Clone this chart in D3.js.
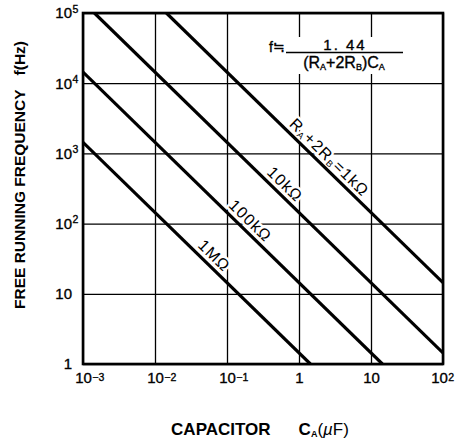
<!DOCTYPE html>
<html>
<head>
<meta charset="utf-8">
<script src="https://cdn.jsdelivr.net/npm/d3@7"></script>
<style>
  body { margin: 0; background: #fff; }
  text { font-family: "Liberation Sans", Arial, Helvetica, sans-serif; fill: #000; }
  .heavy { stroke: #000; stroke-width: 0.35px; }
</style>
</head>
<body>
<script>
const width = 457, height = 442
const margin = {top: 13, right: 14, bottom: 78, left: 83}

// tick values and labels
const xTickVals = [0.001, 0.01, 0.1, 1, 10, 100]
const xTickBase = ["10", "10", "10", "1", "10", "10"]
const xTickSup = ["−3", "−2", "−1", "", "", "2"]
const yTickVals = [1, 10, 100, 1000, 10000, 100000]
const yTickBase = ["1", "10", "10", "10", "10", "10"]
const yTickSup = ["", "", "2", "3", "4", "5"]

// lines: resistance RA+2RB, start and end points [C (µF), f (Hz)]
const resNames = ["1k", "10k", "100k", "1M"]
const lineStart = [[0.0144, 100000], [0.00144, 100000], [0.001, 14400], [0.001, 1440]]
const lineEnd = [[100, 14.4], [100, 1.44], [14.4, 1], [1.44, 1]]
const labelPos = [0.563, 0.526, 0.535, 0.545]

const x = d3.scaleLog().domain([0.001, 100]).range([margin.left, width - margin.right])
const y = d3.scaleLog().domain([1, 100000]).range([height - margin.bottom, margin.top])

const svg = d3.select("body").append("svg")
  .attr("width", width)
  .attr("height", height)

const pw = width - margin.left - margin.right
const ph = height - margin.top - margin.bottom

// grid via axes
const xAxis = d3.axisBottom(x).tickValues(xTickVals).tickSize(-ph).tickPadding(8)
  .tickFormat((d, i) => xTickBase[i])
const yAxis = d3.axisLeft(y).tickValues(yTickVals).tickSize(-pw).tickPadding(11)
  .tickFormat((d, i) => yTickBase[i])

const gx = svg.append("g")
  .attr("transform", "translate(0," + (height - margin.bottom) + ")")
  .call(xAxis)
const gy = svg.append("g")
  .attr("transform", "translate(" + margin.left + ",0)")
  .call(yAxis)

svg.selectAll(".domain").remove()
svg.selectAll(".tick line").attr("stroke", "#000").attr("stroke-width", 1.3)
svg.selectAll(".tick text").attr("font-size", 15).attr("fill", "#000").attr("class", "heavy")

gx.selectAll(".tick").each(function(d, i) {
  // last label sits a bit left of its gridline in the original
  const shift = i === xTickVals.length - 1 ? -4 : 0
  const t = d3.select(this).select("text").attr("x", shift)
  if (!xTickSup[i]) return
  const w = t.node().getComputedTextLength()
  d3.select(this).append("text")
    .attr("class", "heavy")
    .attr("text-anchor", "start")
    .attr("x", shift + w / 2 + 0.5)
    .attr("y", 17)
    .attr("font-size", 10.5)
    .text(xTickSup[i])
})

gy.selectAll(".tick").each(function(d, i) {
  if (!yTickSup[i]) return
  d3.select(this).append("text")
    .attr("class", "heavy")
    .attr("text-anchor", "start")
    .attr("x", -10.5)
    .attr("y", -1)
    .attr("font-size", 10.5)
    .text(yTickSup[i])
})

// formula box
const fg = svg.append("g")
fg.append("rect").attr("x", 262).attr("y", 37).attr("width", 146).attr("height", 37).attr("fill", "#fff")
fg.append("text").attr("x", 285).attr("y", 52).attr("text-anchor", "end").attr("class", "heavy")
  .attr("font-size", 14).text("f≒")
fg.append("line").attr("x1", 286).attr("x2", 403).attr("y1", 52.5).attr("y2", 52.5)
  .attr("stroke", "#000").attr("stroke-width", 1.3)
fg.append("text").attr("x", 345).attr("y", 50).attr("text-anchor", "middle").attr("class", "heavy")
  .attr("font-size", 15).attr("letter-spacing", 2).text("1. 44")
const den = fg.append("text").attr("x", 344).attr("y", 68).attr("text-anchor", "middle")
  .attr("class", "heavy").attr("font-size", 16)
den.append("tspan").text("(R")
den.append("tspan").attr("font-size", 9).attr("dy", 2).text("A")
den.append("tspan").attr("dy", -2).text("+2R")
den.append("tspan").attr("font-size", 9).attr("dy", 2).text("B")
den.append("tspan").attr("dy", -2).text(")C")
den.append("tspan").attr("font-size", 9).attr("dy", 2).text("A")

// line labels
resNames.forEach((name, i) => {
  const x0 = x(lineStart[i][0]), y0 = y(lineStart[i][1])
  const x1 = x(lineEnd[i][0]), y1 = y(lineEnd[i][1])
  const t = labelPos[i]
  const px = x0 + (x1 - x0) * t, py = y0 + (y1 - y0) * t
  const ang = Math.atan2(y1 - y0, x1 - x0) * 180 / Math.PI
  const lab = svg.append("text")
    .attr("transform", "translate(" + px + "," + py + ") rotate(" + ang + ")")
    .attr("y", -5)
    .attr("text-anchor", "middle")
    .attr("font-size", 16)
    .attr("letter-spacing", 1.2)
    .attr("stroke", "#fff").attr("stroke-width", 5).attr("paint-order", "stroke")
  if (i === 0) {
    lab.append("tspan").text("R")
    lab.append("tspan").attr("font-size", 9).attr("dy", 2).text("A")
    lab.append("tspan").attr("dy", -2).text("+2R")
    lab.append("tspan").attr("font-size", 9).attr("dy", 2).text("B")
    lab.append("tspan").attr("dy", -2).text("=" + name + "Ω")
  } else {
    lab.text(name + "Ω")
  }
})

// frequency lines
svg.append("defs").append("clipPath").attr("id", "clip")
  .append("rect").attr("x", margin.left).attr("y", margin.top).attr("width", pw).attr("height", ph)
svg.append("g").attr("clip-path", "url(#clip)")
  .selectAll("line.res")
  .data(resNames)
  .enter()
  .append("line")
  .attr("class", "res")
  .attr("x1", (d, i) => x(lineStart[i][0]))
  .attr("y1", (d, i) => y(lineStart[i][1]))
  .attr("x2", (d, i) => x(lineEnd[i][0]))
  .attr("y2", (d, i) => y(lineEnd[i][1]))
  .attr("stroke", "#000")
  .attr("stroke-width", 3.2)

// frame
svg.append("rect")
  .attr("x", margin.left).attr("y", margin.top)
  .attr("width", pw).attr("height", ph)
  .attr("fill", "none").attr("stroke", "#000").attr("stroke-width", 2.6)

// axis titles
const yt = svg.append("text")
  .attr("transform", "translate(25,175) rotate(-90)")
  .attr("text-anchor", "middle")
  .attr("font-size", 15.5).attr("font-weight", "bold")
yt.append("tspan").text("FREE RUNNING FREQUENCY")
yt.append("tspan").attr("dx", 14).text("f(Hz)")

const xt = svg.append("text")
  .attr("x", 260).attr("y", 435)
  .attr("text-anchor", "middle")
  .attr("font-size", 17).attr("font-weight", "bold")
xt.append("tspan").text("CAPACITOR")
xt.append("tspan").attr("dx", 28).text("C")
xt.append("tspan").attr("font-size", 9).attr("dy", 2).text("A")
xt.append("tspan").attr("dy", -2).attr("font-weight", "normal").text("(")
xt.append("tspan").attr("font-style", "italic").attr("font-weight", "normal").text("µ")
xt.append("tspan").attr("font-weight", "normal").text("F)")
</script>
</body>
</html>
